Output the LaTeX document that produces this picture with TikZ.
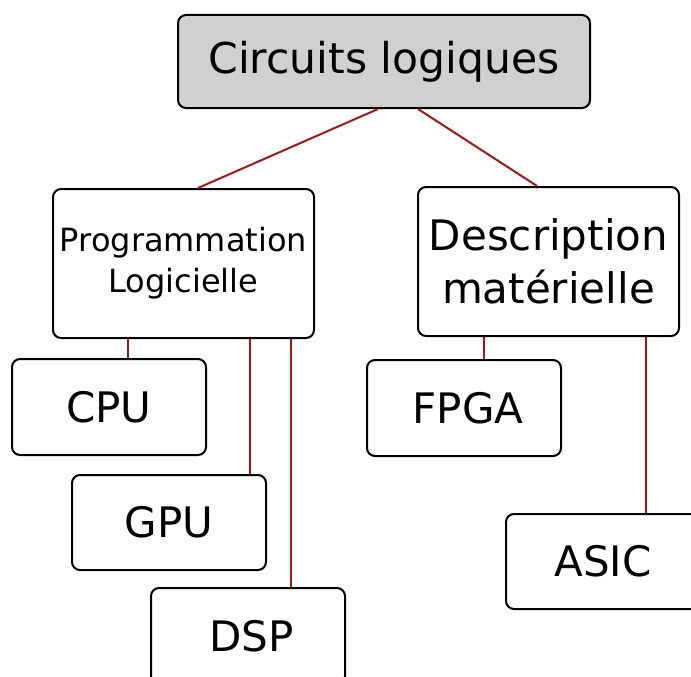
\documentclass[tikz,border=0pt]{standalone}
\usepackage{fontspec}
\setmainfont{DejaVu Sans}
\usetikzlibrary{calc}
\definecolor{linkred}{RGB}{168,22,22}
\definecolor{topgray}{RGB}{208,208,208}
\tikzset{
  box/.style={draw=black, line width=2pt, rounded corners=8pt, inner sep=0pt, fill=white,
    minimum width=194pt, minimum height=96pt, align=center, font=\fontsize{42}{53}\selectfont},
  link/.style={draw=linkred, line width=2pt}
}
\begin{document}
\begin{tikzpicture}[x=1pt,y=-1pt]
\useasboundingbox (0,0) rectangle (691,677);
\clip (0,0) rectangle (691,677);
\node[box, fill=topgray, minimum width=412pt, minimum height=93pt, font=\fontsize{42.5}{53}\selectfont] (top) at (384,61.5) {Circuits logiques};
\node[box, minimum width=261pt, minimum height=149pt, font=\fontsize{32}{41}\selectfont] (prog) at (183.5,263.5) {Programmation\\Logicielle};
\node[box, minimum width=261pt, minimum height=149pt] (desc) at (548.5,261.5) {Description\\matérielle};
\node[box] (cpu) at (109,407) {CPU};
\node[box, minimum height=95pt] (gpu) at (169,522.5) {GPU};
\node[box] (dsp) at (248,636) {\hspace*{7pt}DSP};
\node[box] (fpga) at (464,408) {\hspace*{8pt}FPGA};
\node[box, minimum height=95pt] (asic) at (603,561.5) {ASIC};
\draw[link] ($(top.south)+(-6,0)$) -- ($(prog.north)+(14.5,0)$);
\draw[link] ($(top.south)+(34,0)$) -- ($(desc.north)+(-11.5,0)$);
\coordinate (c1) at ($(cpu.north)+(19,0)$);
\coordinate (c2) at ($(gpu.north)+(81,0)$);
\coordinate (c3) at ($(dsp.north)+(43,0)$);
\coordinate (c4) at ($(fpga.north)+(20,0)$);
\coordinate (c5) at ($(asic.north)+(43,0)$);
\draw[link] (c1 |- prog.south) -- (c1);
\draw[link] (c2 |- prog.south) -- (c2);
\draw[link] (c3 |- prog.south) -- (c3);
\draw[link] (c4 |- desc.south) -- (c4);
\draw[link] (c5 |- desc.south) -- (c5);
\end{tikzpicture}
\end{document}
